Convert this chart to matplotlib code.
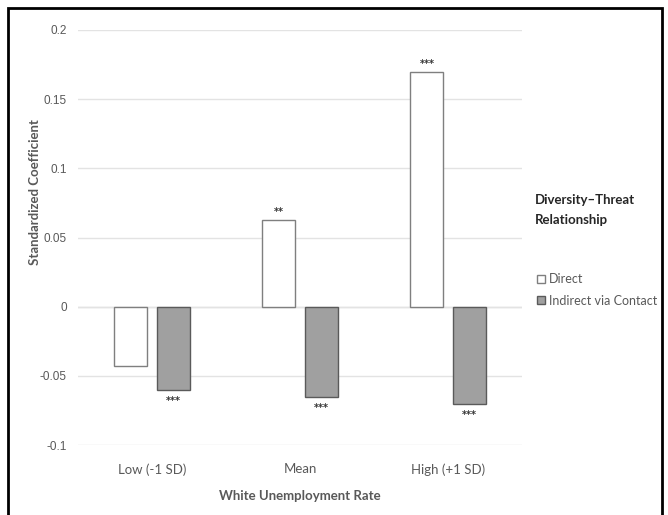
import numpy as np
import matplotlib.pyplot as plt
from matplotlib.patches import Rectangle, Patch

# values
categories = ['Low (-1 SD)', 'Mean', 'High (+1 SD)']
direct = [-0.043, 0.063, 0.17]
indirect = [-0.060, -0.065, -0.070]
direct_stars = ['', '**', '***']
indirect_stars = ['***', '***', '***']
yticks = [-0.1, -0.05, 0, 0.05, 0.1, 0.15, 0.2]
ytick_labels = ['-0.1', '-0.05', '0', '0.05', '0.1', '0.15', '0.2']

text_grey = '#595959'
body_font = ['Lato', 'DejaVu Sans']
num_font = ['Liberation Sans', 'DejaVu Sans']

fig = plt.figure(figsize=(6.68, 5.15), dpi=100)
ax = fig.add_axes([78 / 668, 70 / 515, 444 / 668, 415 / 515])

x = np.arange(len(categories))
w = 0.223
off = 0.142
ax.bar(x - off, direct, w, color='white', edgecolor='#7f7f7f', linewidth=1.0, zorder=3)
ax.bar(x + off, indirect, w, color='#a0a0a0', edgecolor='#5a5a5a', linewidth=1.0, zorder=3)

# significance stars
for i in range(len(categories)):
    if direct_stars[i]:
        ax.annotate(direct_stars[i], (x[i] - off, direct[i]), xytext=(0, 2),
                    textcoords='offset points', ha='center', va='bottom',
                    fontsize=7, color='#333333', fontweight='bold')
    ax.annotate(indirect_stars[i], (x[i] + off, indirect[i]), xytext=(0, -4.5),
                textcoords='offset points', ha='center', va='top',
                fontsize=7, color='#333333', fontweight='bold')

ax.set_xlim(-0.5, 2.5)
ax.set_ylim(-0.1, 0.2)
ax.set_yticks(yticks)
ax.set_yticklabels(ytick_labels, family=num_font, fontsize=8.5, color=text_grey)
ax.set_xticks(x)
ax.set_xticklabels(categories, family=body_font, fontsize=9.5, color=text_grey)
ax.tick_params(length=0, pad=8)
ax.tick_params(axis='x', pad=13)
ax.grid(axis='y', color='#e3e3e3', linewidth=1.0, zorder=0)
ax.axhline(0, color='#d9d9d9', linewidth=1.0, zorder=1)
for s in ax.spines.values():
    s.set_visible(False)

ax.set_xlabel('White Unemployment Rate', family=body_font, fontsize=9.5,
              fontweight='bold', color=text_grey)
ax.xaxis.set_label_coords(0.5, -(490 - 445) / 415)
ax.set_ylabel('Standardized Coefficient', family=body_font, fontsize=9.5,
              fontweight='bold', color=text_grey, va='center')
ax.yaxis.set_label_coords((35 - 78) / 444, (445 - 192) / 415)

# legend on the right
fig.text(535 / 668, 1 - 210 / 515, 'Diversity\u2013Threat\nRelationship',
         family=body_font, fontsize=9.5, fontweight='bold', color='#262626',
         va='center', ha='left', linespacing=1.75)
handles = [Patch(facecolor='white', edgecolor='#7f7f7f'),
           Patch(facecolor='#a0a0a0', edgecolor='#5a5a5a')]
fig.legend(handles, ['Direct', 'Indirect via Contact'], loc='upper left',
           bbox_to_anchor=(526 / 668, 1 - 262 / 515), frameon=False,
           prop={'family': body_font, 'size': 9}, labelcolor=text_grey,
           handlelength=0.65, handleheight=0.65, handletextpad=0.3,
           labelspacing=0.75)

# black frame around the figure (bottom edge runs off the image)
fig.patches.append(Rectangle((8 / 668, -0.05), 654 / 668, 1.05 - 8 / 515,
                             transform=fig.transFigure, fill=False,
                             edgecolor='black', linewidth=2, clip_on=False))

plt.savefig('out.png', dpi=100)
